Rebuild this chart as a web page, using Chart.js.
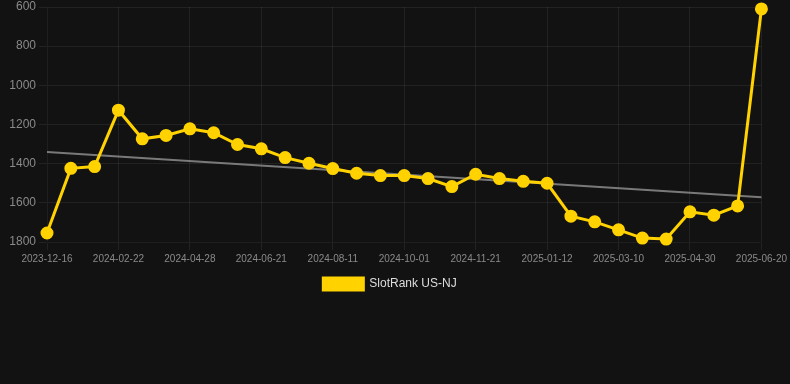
<!DOCTYPE html>
<html>
<head>
<meta charset="utf-8">
<script src="https://cdn.jsdelivr.net/npm/chart.js@4"></script>
<style>
  html, body { margin: 0; padding: 0; background: #121212; }
  #wrap { width: 790px; height: 300px; position: relative; }
</style>
</head>
<body>
<div id="wrap"><canvas id="myChart"></canvas></div>
<script>
const dates = [
  '2023-12-16', '2024-01-08', '2024-01-30', '2024-02-22', '2024-03-15', '2024-04-06',
  '2024-04-28', '2024-05-16', '2024-06-03', '2024-06-21', '2024-07-08', '2024-07-25',
  '2024-08-11', '2024-08-28', '2024-09-14', '2024-10-01', '2024-10-18', '2024-11-04',
  '2024-11-21', '2024-12-08', '2024-12-25', '2025-01-12', '2025-01-31', '2025-02-19',
  '2025-03-10', '2025-03-27', '2025-04-13', '2025-04-30', '2025-05-17', '2025-06-03',
  '2025-06-20'
];
const rankNJ = [
  1754, 1424, 1415, 1127, 1273, 1256, 1222, 1242, 1302, 1324,
  1369, 1398, 1425, 1449, 1461, 1461, 1476, 1517, 1454, 1476,
  1490, 1500, 1668, 1697, 1738, 1780, 1785, 1646, 1663, 1616,
  610
];
// trend line, only the two ends are known
const trendStart = 1341;
const trendEnd = 1571;

const trend = dates.map((d, i) => i === 0 ? trendStart : (i === dates.length - 1 ? trendEnd : null));

const gold = '#FFD200';
const gridColor = 'rgba(255,255,255,0.07)';

const config = {
  type: 'line',
  data: {
    labels: dates,
    datasets: [{
      label: 'SlotRank US-NJ',
      data: rankNJ,
      borderColor: gold,
      backgroundColor: gold,
      borderWidth: 3,
      pointRadius: 5,
      pointBackgroundColor: gold,
      pointBorderColor: gold,
      tension: 0,
      clip: false
    }, {
      label: 'trend',
      data: trend,
      spanGaps: true,
      borderColor: 'rgba(140,140,140,0.85)',
      borderWidth: 2,
      pointRadius: 0
    }]
  },
  options: {
    responsive: true,
    maintainAspectRatio: false,
    animation: false,
    layout: {autoPadding: false, padding: {right: 10}},
    scales: {
      x: {
        grid: {color: gridColor},
        ticks: {
          color: '#8a8a8a',
          font: {size: 10},
          maxRotation: 0,
          autoSkip: true,
          maxTicksLimit: 11
        }
      },
      y: {
        reverse: true,
        min: 600,
        max: 1800,
        grid: {color: gridColor},
        afterFit: (scale) => { scale.width = 47; scale.paddingTop = 7; },
        ticks: {
          color: '#8a8a8a',
          font: {size: 12},
          stepSize: 200,
          callback: (v) => String(v)
        }
      }
    },
    plugins: {
      legend: {
        position: 'bottom',
        labels: {
          color: '#dddddd',
          font: {size: 12},
          filter: (item) => item.text !== 'trend'
        }
      },
      tooltip: {enabled: false}
    }
  }
};
const myChart = new Chart(document.getElementById('myChart'), config);
</script>
</body>
</html>
